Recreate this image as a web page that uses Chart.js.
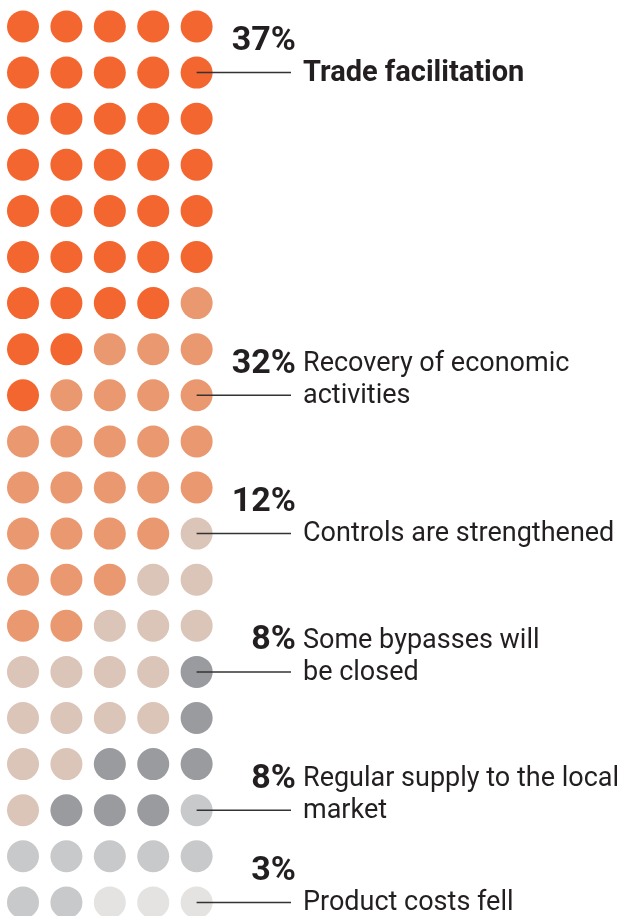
<!DOCTYPE html>
<html>
<head>
<meta charset="utf-8">
<script src="https://cdn.jsdelivr.net/npm/chart.js@4"></script>
<style>
  html, body { margin: 0; padding: 0; background: #fff; }
  #wrap { width: 622px; height: 916px; }
</style>
</head>
<body>
<div id="wrap"><canvas id="dots" width="622" height="916"></canvas></div>
<script>
// data
const categories = [
  'Trade facilitation',
  'Recovery of economic activities',
  'Controls are strengthened',
  'Some bypasses will be closed',
  'Regular supply to the local market',
  'Product costs fell'
];
const shares = [37, 32, 12, 8, 8, 3];
const labelLines = [
  ['Trade facilitation'],
  ['Recovery of economic', 'activities'],
  ['Controls are strengthened'],
  ['Some bypasses will', 'be closed'],
  ['Regular supply to the local', 'market'],
  ['Product costs fell']
];
// which category each dot belongs to, row by row (5 dots per row)
const dotRows = [
  '00000', '00000', '00000', '00000', '00000',
  '00000', '00001', '00111', '01111', '11111',
  '11111', '11112', '11122', '11222', '22223',
  '22223', '22333', '23334', '44444', '44555'
];
// row of the dot the leader line points at
const anchorRows = [1, 8, 11, 14, 17, 19];

const palette = ['#f4662f', '#ea9870', '#dbc4b8', '#9a9b9f', '#c8c9cb', '#e4e3e1'];
const ink = '#231f20';
const fontFamily = 'Roboto, "Liberation Sans", sans-serif';

/*
* build one dataset per category
* ============================================= */
const datasets = categories.map((name, i) => {
  const points = [];
  dotRows.forEach((row, r) => {
    row.split('').forEach((ch, c) => {
      if (+ch === i) points.push({x: c, y: r});
    });
  });
  return {
    label: name,
    data: points,
    backgroundColor: palette[i],
    borderWidth: 0,
    pointRadius: 16,
    pointHoverRadius: 16
  };
});

const calloutPlugin = {
  id: 'callouts',
  afterDatasetsDraw(chart) {
    const ctx = chart.ctx,
      xs = chart.scales.x,
      ys = chart.scales.y;
    const lineStart = xs.getPixelForValue(4),
      lineEnd = 291,
      textX = 303,
      pctRight = 296,
      lineGap = 32;

    ctx.save();
    categories.forEach((name, i) => {
      const y = ys.getPixelForValue(anchorRows[i]);

      ctx.strokeStyle = '#333';
      ctx.lineWidth = 1.5;
      ctx.beginPath();
      ctx.moveTo(lineStart, y);
      ctx.lineTo(lineEnd, y);
      ctx.stroke();

      const lines = labelLines[i];
      ctx.fillStyle = ink;
      ctx.textAlign = 'left';
      ctx.textBaseline = 'middle';
      ctx.font = (i === 0 ? 'bold 29px ' : '27px ') + fontFamily;
      lines.forEach((t, k) => {
        ctx.fillText(t, textX, y - (lines.length - 1 - k) * lineGap + 1);
      });

      ctx.font = 'bold 34px ' + fontFamily;
      ctx.textAlign = 'right';
      ctx.fillText(shares[i] + '%', pctRight, y - lineGap + 1);
    });
    ctx.restore();
  }
};

const initDotChart = () => {
  new Chart(document.getElementById('dots'), {
    type: 'scatter',
    data: { datasets: datasets },
    options: {
      responsive: false,
      animation: false,
      events: [],
      layout: { padding: 0, autoPadding: false },
      plugins: {
        legend: { display: false },
        tooltip: { enabled: false }
      },
      scales: {
        x: { type: 'linear', display: false, min: -0.53, max: 13.8 },
        y: { type: 'linear', display: false, reverse: true, min: -0.575, max: 19.295 }
      }
    },
    plugins: [calloutPlugin]
  });
};
initDotChart();
</script>
</body>
</html>
